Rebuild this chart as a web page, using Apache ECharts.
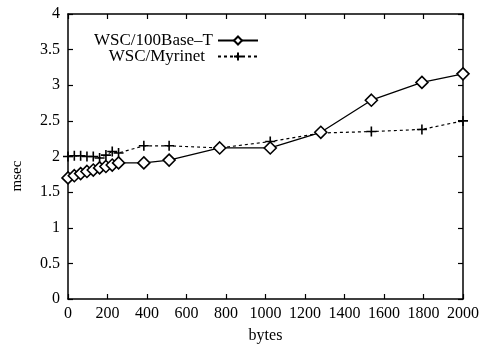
<!DOCTYPE html>
<html><head><meta charset="utf-8">
<script src="https://cdn.jsdelivr.net/npm/echarts@6/dist/echarts.min.js"></script>
<style>html,body{margin:0;padding:0;background:#fff}#c{width:492px;height:349px}</style>
</head><body><div id="c"></div>
<script>
const bytes = [0,32,64,96,128,160,192,224,256,384,512,768,1024,1280,1536,1792,2000];
const base100 = [1.70,1.73,1.76,1.79,1.81,1.84,1.86,1.88,1.91,1.91,1.95,2.12,2.12,2.34,2.79,3.04,3.16];
const myrinet = [2.00,2.01,2.01,2.00,2.00,1.98,2.02,2.07,2.05,2.15,2.15,2.12,2.21,2.33,2.35,2.38,2.50];
const xTicks = [0,200,400,600,800,1000,1200,1400,1600,1800,2000];
const yTicks = [0,0.5,1,1.5,2,2.5,3,3.5,4];
const names = ['WSC/100Base\u2013T','WSC/Myrinet'];

const F = 'Liberation Serif, Times New Roman, serif';
const plus = 'path://M0,5L10,5M5,0L5,10';
const chart = echarts.init(document.getElementById('c'));
function axisCommon(){ return {
  axisLine:{show:true,onZero:false,lineStyle:{color:'#000',width:1.5}},
  axisTick:{show:true,inside:true,length:5,lineStyle:{color:'#000',width:1.2}},
  splitLine:{show:false}
};}
chart.setOption({
  animation:false,
  backgroundColor:'#fff',
  grid:{left:68,right:29,top:14,bottom:44},
  legend:[
    {data:[{name:names[0]}],right:233,top:32,padding:0,orient:'vertical',align:'right',itemWidth:40,itemHeight:10,
     textStyle:{fontFamily:F,fontSize:17,color:'#000'}},
    {data:[{name:names[1]}],right:233,top:48,padding:0,orient:'vertical',align:'right',itemWidth:40,itemHeight:10,
     textStyle:{fontFamily:F,fontSize:17,color:'#000',padding:[0,8,0,0]}}
  ],
  graphic:[{type:'text',x:17,y:176,rotation:Math.PI/2,
    style:{text:'msec',font:'15px '+F,fill:'#000',align:'center',verticalAlign:'middle'}}],
  xAxis:[
    Object.assign({type:'value',min:0,max:2000,interval:200,position:'bottom',
      name:'bytes',nameLocation:'middle',nameGap:29,nameTextStyle:{fontFamily:F,fontSize:16,color:'#000'},
      axisLabel:{fontFamily:F,fontSize:16,color:'#000',margin:7,formatter:v=>String(v)}},axisCommon()),
    Object.assign({type:'value',min:0,max:2000,interval:200,position:'top',axisLabel:{show:false}},axisCommon())
  ],
  yAxis:[
    Object.assign({type:'value',min:0,max:4,interval:0.5,position:'left',
      axisLabel:{fontFamily:F,fontSize:16,color:'#000',margin:8,formatter:v=>String(v)}},axisCommon()),
    Object.assign({type:'value',min:0,max:4,interval:0.5,position:'right',axisLabel:{show:false}},axisCommon())
  ],
  series:[
    {name:names[0],type:'line',data:bytes.map((x,i)=>[x,base100[i]]),
     symbol:'diamond',symbolSize:[12,12],showAllSymbol:true,
     lineStyle:{color:'#000',width:1.3},
     itemStyle:{color:'#fff',borderColor:'#000',borderWidth:1.6},z:3},
    {name:names[1],type:'line',data:bytes.map((x,i)=>[x,myrinet[i]]),
     symbol:plus,symbolSize:[10,10],showAllSymbol:true,
     lineStyle:{color:'#000',width:1.2,type:[3,3]},
     itemStyle:{color:'#000',borderColor:'#000',borderWidth:1.6},z:2}
  ]
});
</script></body></html>
